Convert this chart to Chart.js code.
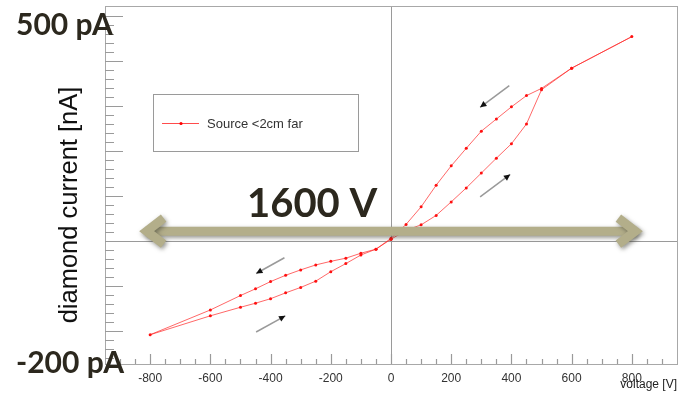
<!DOCTYPE html>
<html><head><meta charset="utf-8">
<script src="https://cdn.jsdelivr.net/npm/chart.js@4.4.1/dist/chart.umd.min.js"></script>
<style>html,body{margin:0;padding:0;background:#fff;}#wrap{width:687px;height:398px;position:relative;}</style>
</head><body><div id="wrap"><canvas id="c" width="687" height="398"></canvas></div>
<script>
const seriesLabel = "Source <2cm far";
const voltage = [0,50,100,150,200,250,300,350,400,450,500,600,800,600,500,450,400,350,300,250,200,150,100,50,0,-50,-100,-150,-200,-250,-300,-350,-400,-450,-500,-600,-800,-600,-500,-450,-400,-350,-300,-250,-200,-150,-100,-50,0];
const current = [0.004,0.024,0.036,0.057,0.087,0.118,0.151,0.184,0.216,0.260,0.336,0.384,0.454,0.384,0.339,0.323,0.298,0.271,0.244,0.206,0.167,0.124,0.076,0.037,0.006,-0.018,-0.027,-0.038,-0.045,-0.053,-0.064,-0.076,-0.090,-0.106,-0.121,-0.153,-0.208,-0.166,-0.147,-0.138,-0.128,-0.115,-0.103,-0.089,-0.068,-0.050,-0.031,-0.018,0.004];
const xTicks = [-800,-600,-400,-200,0,200,400,600,800];
const xTitle = "voltage [V]";
const yTitle = "diamond current [nA]";
const topNote = "500 pA";
const bottomNote = "-200 pA";
const spanNote = "1600 V";
// direction arrows [fromV, fromI, toV, toI]
const dirArrows = [[393,0.345,296,0.297],[296,0.098,396,0.148],[-354,-0.037,-448,-0.072],[-448,-0.202,-351,-0.166]];
const spanArrow = [-825, 825, 0.022];

const points = voltage.map((v,i)=>({x:v,y:current[i]}));

function arrowHead(ctx,x1,y1,x2,y2,size){
  const a=Math.atan2(y2-y1,x2-x1);
  ctx.beginPath();
  ctx.moveTo(x2,y2);
  ctx.lineTo(x2-size*Math.cos(a-0.45),y2-size*Math.sin(a-0.45));
  ctx.lineTo(x2-size*Math.cos(a+0.45),y2-size*Math.sin(a+0.45));
  ctx.closePath();ctx.fill();
}

const deco = {
  id:'deco',
  beforeDatasetsDraw(chart){
    const ctx=chart.ctx, xs=chart.scales.x, ys=chart.scales.y, ca=chart.chartArea;
    ctx.save();
    ctx.strokeStyle='#9a9a9a';ctx.lineWidth=1;
    const x0=Math.round(xs.getPixelForValue(0))+0.5, y0=Math.round(ys.getPixelForValue(0))+0.5;
    ctx.beginPath();ctx.moveTo(x0,ca.top);ctx.lineTo(x0,ca.bottom);ctx.moveTo(ca.left,y0);ctx.lineTo(ca.right,y0);ctx.stroke();
    ctx.strokeStyle='#a8a8a8';
    ctx.strokeRect(Math.round(ca.left)+0.5,Math.round(ca.top)+0.5,Math.round(ca.right-ca.left),Math.round(ca.bottom-ca.top));
    ctx.strokeStyle='#9a9a9a';ctx.lineWidth=1.2;
    ctx.beginPath();
    for(let k=-14;k<=27;k++){
      const py=ys.getPixelForValue(k*0.02);
      if(py<ca.top+1||py>ca.bottom-1)continue;
      const len=(k%5===0)?18:9;
      ctx.moveTo(ca.left,Math.round(py)+0.5);ctx.lineTo(ca.left+len,Math.round(py)+0.5);
    }
    for(let k=-19;k<=19;k++){
      const px=xs.getPixelForValue(k*50);
      if(px<ca.left+1||px>ca.right-1)continue;
      const len=(k%4===0)?10:5;
      ctx.moveTo(Math.round(px)+0.5,ca.bottom);ctx.lineTo(Math.round(px)+0.5,ca.bottom-len);
    }
    ctx.stroke();
    ctx.restore();
  },
  afterDatasetsDraw(chart){
    const ctx=chart.ctx, xs=chart.scales.x, ys=chart.scales.y;
    ctx.save();
    dirArrows.forEach(a=>{
      const x1=xs.getPixelForValue(a[0]),y1=ys.getPixelForValue(a[1]),x2=xs.getPixelForValue(a[2]),y2=ys.getPixelForValue(a[3]);
      ctx.strokeStyle='#9a9a9a';ctx.lineWidth=1.5;
      ctx.beginPath();ctx.moveTo(x1,y1);ctx.lineTo(x2,y2);ctx.stroke();
      ctx.fillStyle='#111';arrowHead(ctx,x1,y1,x2,y2,7);
    });
    ctx.restore();
  },
  afterDraw(chart){
    const ctx=chart.ctx, xs=chart.scales.x, ys=chart.scales.y, ca=chart.chartArea;
    ctx.save();
    ctx.fillStyle='#fff';ctx.fillRect(153,94,205,57);
    ctx.strokeStyle='#9a9a9a';ctx.lineWidth=1;ctx.strokeRect(153.5,94.5,205,57);
    ctx.strokeStyle='rgba(255,0,0,0.7)';ctx.beginPath();ctx.moveTo(162,123.5);ctx.lineTo(199,123.5);ctx.stroke();
    ctx.fillStyle='#ff0000';ctx.beginPath();ctx.arc(181,123.5,1.6,0,Math.PI*2);ctx.fill();
    ctx.fillStyle='#333';ctx.font='13px "Liberation Sans"';ctx.textBaseline='middle';ctx.textAlign='left';
    ctx.fillText(seriesLabel,207,124);
    ctx.fillStyle='#222';ctx.font='12px "Liberation Sans"';ctx.textAlign='right';
    ctx.fillText(xTitle,ca.right,385);
    ctx.save();ctx.translate(70,205);ctx.rotate(-Math.PI/2);ctx.textAlign='center';
    ctx.fillStyle='#111';ctx.font='25.5px "Liberation Sans"';ctx.fillText(yTitle,0,0);ctx.restore();
    const xa=xs.getPixelForValue(spanArrow[0]), xb=xs.getPixelForValue(spanArrow[1]), ya=ys.getPixelForValue(spanArrow[2]);
    ctx.shadowColor='rgba(60,60,50,0.55)';ctx.shadowBlur=4;ctx.shadowOffsetX=1.5;ctx.shadowOffsetY=2;
    ctx.strokeStyle='#b3ae8a';ctx.lineWidth=9;ctx.lineCap='butt';ctx.lineJoin='miter';
    ctx.beginPath();ctx.moveTo(xa+3,ya);ctx.lineTo(xb-3,ya);ctx.stroke();
    ctx.beginPath();ctx.moveTo(xa+21,ya-13);ctx.lineTo(xa+4,ya);ctx.lineTo(xa+21,ya+13);ctx.stroke();
    ctx.beginPath();ctx.moveTo(xb-21,ya-13);ctx.lineTo(xb-4,ya);ctx.lineTo(xb-21,ya+13);ctx.stroke();
    ctx.shadowColor='transparent';
    ctx.fillStyle='#2c281e';ctx.textAlign='left';ctx.textBaseline='alphabetic';
    ctx.font='bold 30px Lato';
    ctx.fillText(topNote,16,35);
    ctx.fillText(bottomNote,16,373);
    ctx.font='bold 40px Lato';
    ctx.fillText(spanNote,247,217);
    ctx.restore();
  }
};

new Chart(document.getElementById('c'),{
  type:'scatter',
  data:{datasets:[{label:seriesLabel,data:points,showLine:true,borderColor:'rgba(255,40,40,0.7)',borderWidth:1,
    pointRadius:1.5,pointBackgroundColor:'#ff1010',pointBorderWidth:0,tension:0}]},
  options:{
    responsive:false,animation:false,
    layout:{padding:{left:105,top:6,right:10,bottom:0}},
    plugins:{legend:{display:false},tooltip:{enabled:false}},
    scales:{
      x:{type:'linear',min:-950,max:950,
        afterBuildTicks:(s)=>{s.ticks=xTicks.map(v=>({value:v}));},
        afterFit:(s)=>{s.height=34;},
        grid:{display:false,drawTicks:false},border:{display:false},
        ticks:{padding:7,color:'#333',font:{family:'Liberation Sans',size:12},callback:(v)=>String(v)}},
      y:{type:'linear',min:-0.273,max:0.522,display:false}
    }
  },
  plugins:[deco]
});
</script></body></html>
